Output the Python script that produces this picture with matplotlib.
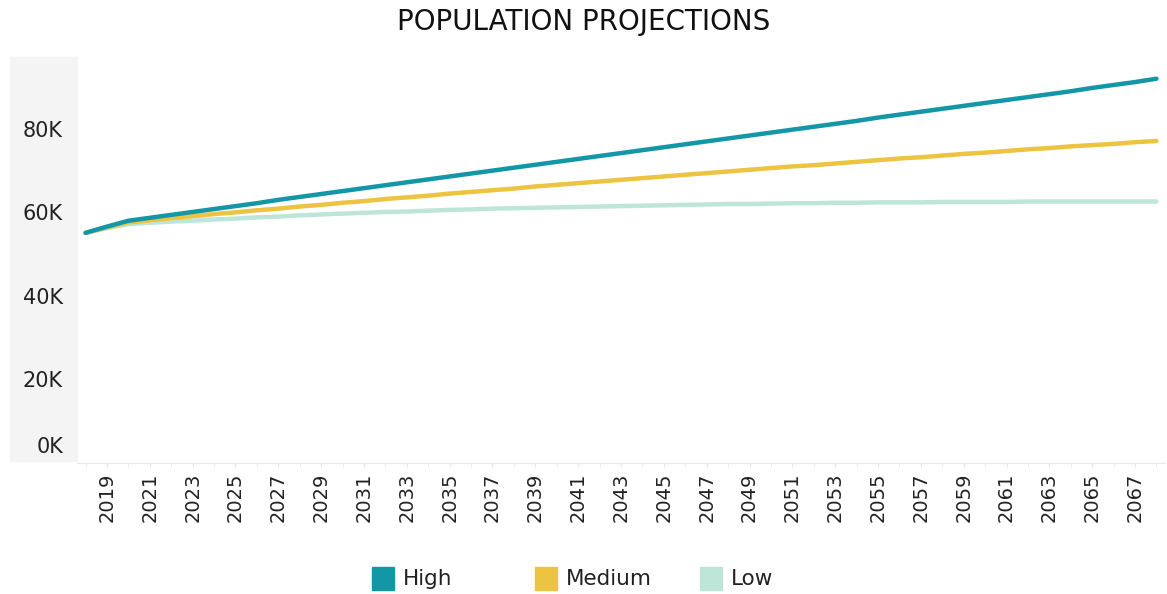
import matplotlib.pyplot as plt
from matplotlib.patches import Rectangle
from matplotlib.ticker import MultipleLocator
from matplotlib.transforms import ScaledTranslation

# population projections, in thousands
years = list(range(2018, 2069))
high = [55.1, 56.6, 58.0, 58.7, 59.4, 60.1, 60.8, 61.5, 62.2, 63.0,
        63.7, 64.4, 65.1, 65.8, 66.5, 67.2, 67.9, 68.6, 69.3, 70.0,
        70.7, 71.4, 72.1, 72.8, 73.5, 74.2, 74.9, 75.6, 76.3, 77.0,
        77.7, 78.4, 79.1, 79.8, 80.5, 81.2, 81.9, 82.7, 83.4, 84.1,
        84.8, 85.5, 86.2, 86.9, 87.6, 88.3, 89.0, 89.8, 90.5, 91.2, 92.0]
medium = [55.1, 56.4, 57.6, 58.1, 58.6, 59.1, 59.6, 60.0, 60.5, 60.9,
          61.4, 61.8, 62.3, 62.7, 63.2, 63.6, 64.0, 64.5, 64.9, 65.3,
          65.7, 66.2, 66.6, 67.0, 67.4, 67.8, 68.2, 68.6, 69.0, 69.4,
          69.8, 70.2, 70.6, 71.0, 71.3, 71.7, 72.1, 72.5, 72.9, 73.2,
          73.6, 74.0, 74.3, 74.7, 75.1, 75.4, 75.8, 76.1, 76.4, 76.8, 77.1]
low = [55.1, 56.2, 57.2, 57.5, 57.8, 58.0, 58.3, 58.5, 58.8, 59.0,
       59.3, 59.5, 59.7, 59.9, 60.1, 60.2, 60.4, 60.6, 60.7, 60.9,
       61.0, 61.1, 61.2, 61.3, 61.4, 61.5, 61.6, 61.7, 61.8, 61.9,
       62.0, 62.0, 62.1, 62.2, 62.2, 62.3, 62.3, 62.4, 62.4, 62.4,
       62.5, 62.5, 62.5, 62.5, 62.6, 62.6, 62.6, 62.6, 62.6, 62.6, 62.6]

series = ['High', 'Medium', 'Low']
colors = ['#1396a6', '#ecc441', '#bde6d8']
y_ticks = [0, 20, 40, 60, 80]

W, H = 1167, 594
fig = plt.figure(figsize=(W / 100, H / 100), dpi=100)
ax = fig.add_axes([77 / W, 1 - 463 / H, (1165 - 77) / W, (463 - 57) / H])

# grey band behind the y axis labels
fig.add_artist(Rectangle((10 / W, 1 - 461 / H), 67 / W, 404 / H,
                         transform=fig.transFigure, color='#f4f4f4', zorder=0))

# low first so high sits on top
for name, vals, c in reversed(list(zip(series, [high, medium, low], colors))):
    ax.plot(years, vals, color=c, lw=3.2, solid_capstyle='round', label=name)

ax.set_xlim(2017.6, 2068.4)
ax.set_ylim(0, 97.2)
ax.set_xticks(list(range(2019, 2068, 2)))
ax.xaxis.set_minor_locator(MultipleLocator(1))
ax.tick_params(axis='x', which='both', length=3, color='#e8e8e8', pad=4,
               labelsize=14, labelrotation=90, labelcolor='#222222')
ax.set_yticks(y_ticks)
ax.set_yticklabels([f'{v}K' for v in y_ticks])
ax.tick_params(axis='y', length=0, pad=10, labelsize=15, labelcolor='#222222')
zero_lbl = ax.get_yticklabels()[0]
zero_lbl.set_verticalalignment('bottom')
zero_lbl.set_transform(zero_lbl.get_transform()
                       + ScaledTranslation(0, 6 / 100, fig.dpi_scale_trans))
ax.patch.set_alpha(0)
for s in ['top', 'right', 'left']:
    ax.spines[s].set_visible(False)
ax.spines['bottom'].set_color('#e8e8e8')

fig.text(0.5, 1 - 22 / H, 'POPULATION PROJECTIONS', ha='center', va='center',
         fontsize=20, color='#111111')

# legend
leg_x = [372, 535, 700]
for x, name, c in zip(leg_x, series, colors):
    fig.add_artist(Rectangle((x / W, 1 - 590 / H), 22 / W, 23 / H,
                             transform=fig.transFigure, color=c))
    fig.text((x + 31) / W, 1 - 579 / H, name, va='center', ha='left',
             fontsize=15.5, color='#222222')

fig.savefig('out.png', dpi=100)
